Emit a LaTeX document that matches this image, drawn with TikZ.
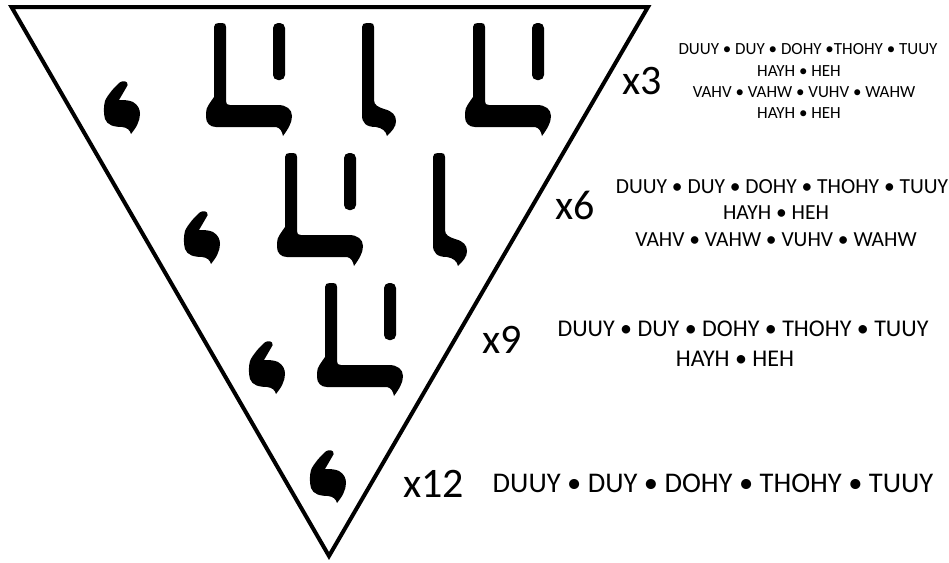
\documentclass[tikz,border=0pt]{standalone}
\usepackage{fontspec}
\setmainfont{Carlito}
\tikzset{
  tri/.style={line width=4pt, line join=miter},
  lab/.style={anchor=base west, inner sep=0pt, font=\fontsize{42}{48}\selectfont},
  ta/.style={anchor=base, inner sep=0pt, font=\fontsize{17}{20}\selectfont},
  tb/.style={anchor=base, inner sep=0pt, font=\fontsize{21.5}{25}\selectfont},
  tc/.style={anchor=base, inner sep=0pt, font=\fontsize{24}{28}\selectfont},
  td/.style={anchor=base, inner sep=0pt, font=\fontsize{28.5}{32}\selectfont},
  pics/commaglyph/.style={code={
    \fill (15,2) .. controls (17,0) and (21,-0.5) .. (23,1.5)
      .. controls (24.5,3) and (23.5,5) .. (22,7)
      -- (15,19)
      .. controls (19,19) and (25,19) .. (29,21)
      .. controls (34,24) and (36,28) .. (36,33)
      .. controls (36,40) and (32,47) .. (27,53)
      .. controls (26,49) and (23,46.5) .. (18,46)
      .. controls (10,46) and (3,44) .. (1,38)
      .. controls (-0.5,33) and (-0.5,25) .. (1,20)
      .. controls (4,13) and (10,7) .. (15,2) -- cycle;
  }},
  pics/stemglyph/.style={code={
    \fill (0,4) .. controls (0,1) and (2,0) .. (5,0) -- (8,0)
      .. controls (11,0) and (12,1) .. (12,4)
      -- (12,77)
      .. controls (12,82) and (16,84) .. (22,86)
      .. controls (30,88) and (34,92) .. (34,98)
      .. controls (34,104) and (30,108) .. (25,113)
      .. controls (24,108) and (20,105) .. (14,104)
      .. controls (4,104) and (0,100) .. (0,92) -- cycle;
  }},
  pics/lbarglyph/.style={code={
    \fill (8,4) .. controls (8,1) and (10,0) .. (13,0) -- (16,0)
      .. controls (19,0) and (20,1) .. (20,4)
      -- (20,78)
      .. controls (20,81) and (21,82) .. (24,82)
      -- (72,82)
      .. controls (80,82) and (86,86) .. (86,93)
      .. controls (86,100) and (82,106) .. (77,113)
      .. controls (76,108) and (74,105) .. (70,104)
      -- (10,104)
      .. controls (4,104) and (0,100) .. (0,94)
      -- (0,90) .. controls (0,84) and (4,80) .. (8,74) -- cycle;
    \fill[rounded corners=5pt] (67,0) rectangle (79,57);
  }},
}
\begin{document}
\begin{tikzpicture}[x=1pt,y=-1pt]
\useasboundingbox (0,0) rectangle (949,562);
% triangle
\draw[tri] (11.5,7) -- (648,7) -- (329,556) -- cycle;
% row 1
\pic at (104,81) {commaglyph};
\pic at (206,23) {lbarglyph};
\pic at (362,23) {stemglyph};
\pic at (465,23) {lbarglyph};
% row 2
\pic at (184,211) {commaglyph};
\pic at (277,153) {lbarglyph};
\pic at (433,153) {stemglyph};
% row 3
\pic at (249,341) {commaglyph};
\pic at (317,283) {lbarglyph};
% row 4
\pic at (310,450) {commaglyph};
% labels
\node[lab] (l3) at (622,94) {x3};
\node[lab] (l6) at (555,219) {x6};
\node[lab] (l9) at (482,353) {x9};
\node[lab] (l12) at (403,497) {x12};
% text blocks
\node[ta] (t3a) at (808,54) {DUUY • DUY • DOHY •THOHY • TUUY};
\node[ta] (t3b) at (799,76) {HAYH • HEH};
\node[ta] (t3c) at (804,97) {VAHV • VAHW • VUHV • WAHW};
\node[ta] (t3d) at (799,118) {HAYH • HEH};
\node[tb] (t6a) at (782,193) {DUUY • DUY • DOHY • THOHY • TUUY};
\node[tb] (t6b) at (776,219) {HAYH • HEH};
\node[tb] (t6c) at (776,246) {VAHV • VAHW • VUHV • WAHW};
\node[tc] (t9a) at (743,336) {DUUY • DUY • DOHY • THOHY • TUUY};
\node[tc] (t9b) at (735,366) {HAYH • HEH};
\node[td] (t12a) at (713,492) {DUUY • DUY • DOHY • THOHY • TUUY};
\end{tikzpicture}
\end{document}
